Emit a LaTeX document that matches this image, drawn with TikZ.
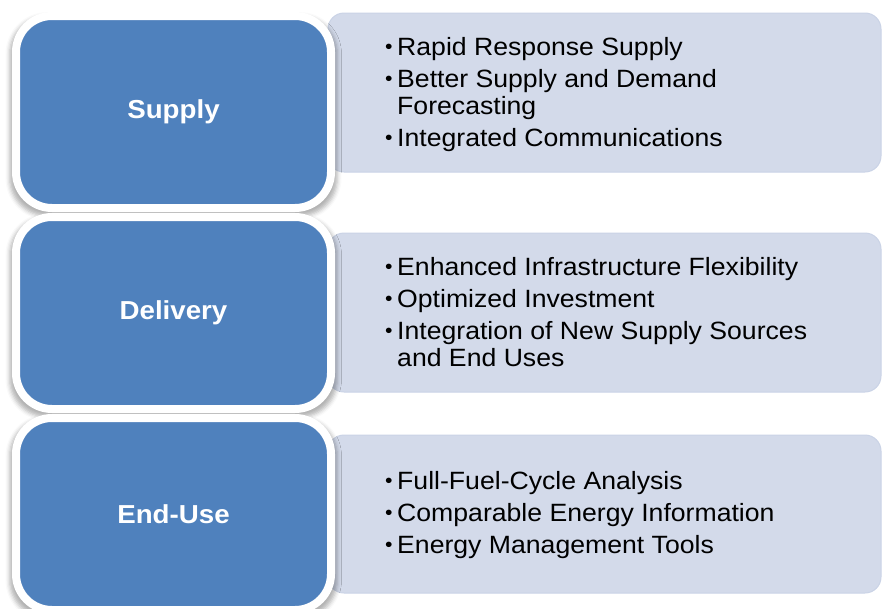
\documentclass[tikz,border=0pt]{standalone}
\usepackage{fontspec}
\setmainfont{Liberation Sans}[FakeStretch=1.065]
\usetikzlibrary{shadows.blur}
\definecolor{stageblue}{HTML}{4F81BD}
\definecolor{detailfill}{HTML}{D3DAEA}
\definecolor{detailedge}{HTML}{CAD3E6}
% small raised bullet in a fixed-width box so wrapped lines hang under the text
\newcommand{\itm}{\makebox[12pt][l]{\raisebox{1.8pt}{\scalebox{0.8}{•}}}}
\newcommand{\hang}{\hspace*{12pt}}
\begin{document}
\begin{tikzpicture}[x=1pt,y=1pt,
  stagebox/.style={rectangle, rounded corners=36pt, fill=stageblue, draw=white,
    line width=8pt, minimum width=315pt, minimum height=192pt,
    font=\fontsize{26}{28}\selectfont\bfseries, text=white,
    blur shadow={shadow xshift=0pt, shadow yshift=-4pt, shadow scale=1.04,
      shadow blur radius=4pt, shadow opacity=30}},
  detailbox/.style={rectangle, rounded corners=16pt, fill=detailfill, draw=detailedge,
    line width=1pt, minimum width=553pt},
  detailtext/.style={anchor=base west, align=left, inner sep=0pt,
    font=\fontsize{25}{27}\selectfont}]
\useasboundingbox (0,0) rectangle (883,-608);

% detail panels
\node[detailbox, minimum height=159pt] (supplyd) at (604.5,-92.5) {};
\node[detailbox, minimum height=159pt] (deliveryd) at (604.5,-312.5) {};
\node[detailbox, minimum height=158pt] (endused) at (604.5,-514) {};

% stage boxes
\node[stagebox] (supply) at (173.5,-112) {Supply};
\node[stagebox] (delivery) at (173.5,-313) {Delivery};
\node[stagebox] (enduse) at (173.5,-514) {End-Use};

% bullet lists, placed by the baseline of their last line
\node[detailtext] (supplyt) at (385,-146) {\itm Rapid Response Supply\\[5pt]
  \itm Better Supply and Demand\\
  \hang Forecasting\\[5pt]
  \itm Integrated Communications};
\node[detailtext] (deliveryt) at (385,-366) {\itm Enhanced Infrastructure Flexibility\\[5pt]
  \itm Optimized Investment\\[5pt]
  \itm Integration of New Supply Sources\\
  \hang and End Uses};
\node[detailtext] (enduset) at (385,-553) {\itm Full-Fuel-Cycle Analysis\\[5pt]
  \itm Comparable Energy Information\\[5pt]
  \itm Energy Management Tools};
\end{tikzpicture}
\end{document}
